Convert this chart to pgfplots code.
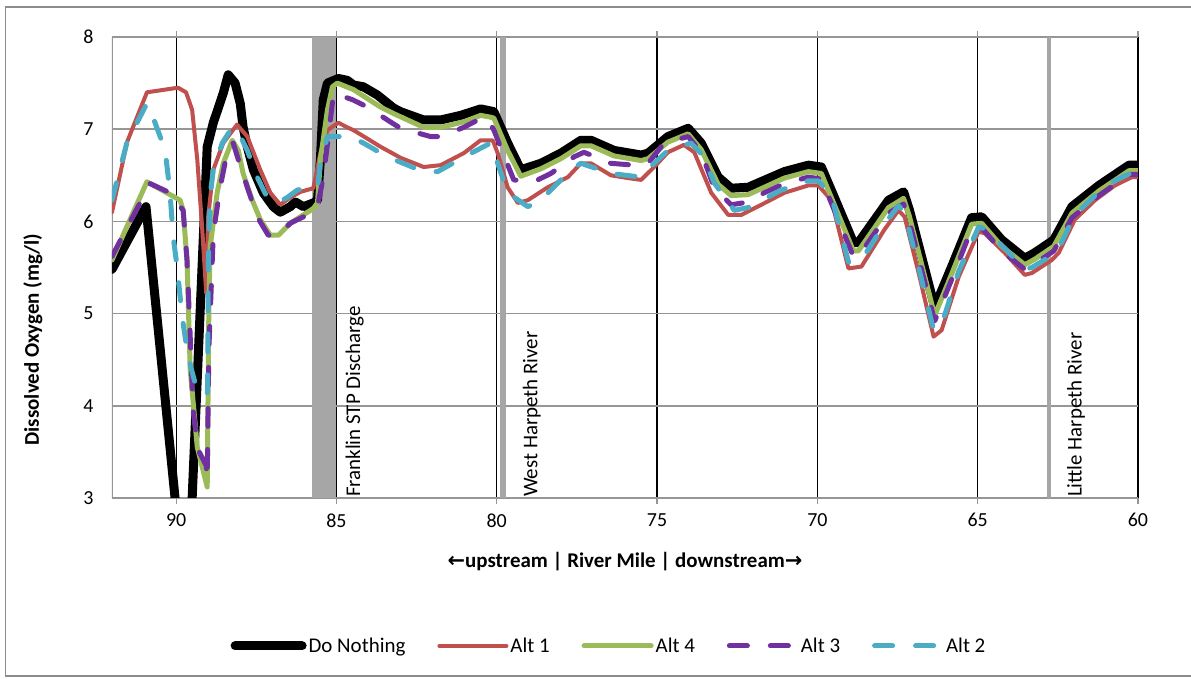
\documentclass[border=0pt]{standalone}
\usepackage{pgfplots}
\pgfplotsset{compat=1.18}
\usepackage{fontspec}
\setmainfont{Carlito}
\newfontfamily\arrowfont{DejaVu Sans}
\definecolor{cRed}{HTML}{C0504D}
\definecolor{cGreen}{HTML}{9BBB59}
\definecolor{cPurple}{HTML}{7030A0}
\definecolor{cTeal}{HTML}{4BACC6}
\definecolor{frameGray}{HTML}{8C8C8C}
\definecolor{gridGray}{HTML}{969696}
\definecolor{barGray}{HTML}{A6A6A6}
\begin{document}
\begin{tikzpicture}
\useasboundingbox (0,0) rectangle (1191bp,679bp);
\draw[frameGray, line width=1.2bp] (5.5bp,3bp) rectangle (1205bp,672bp);
\begin{axis}[
  at={(112bp,181bp)}, anchor=south west,
  scale only axis, width=1026bp, height=461bp,
  x dir=reverse, xmin=60, xmax=92, ymin=3, ymax=8,
  xtick={60,65,70,75,80,85,90}, ytick={3,4,5,6,7,8},
  axis line style={draw=none},
  xmajorgrids, ymajorgrids,
  x grid style={black, line width=1.1bp},
  y grid style={gridGray, line width=1.5bp},
  tick align=outside, major tick length=6bp,
  xtick style={draw=gridGray, line width=1.2bp},
  ytick style={draw=none},
  tick label style={font=\fontsize{20}{24}\selectfont},
  /pgf/number format/assume math mode=true,
  xticklabel style={yshift=-6bp},
  yticklabel style={xshift=-9bp},
  xlabel={{\arrowfont\bfseries\fontsize{21}{25}\selectfont ←}upstream | River Mile | downstream{\arrowfont\bfseries\fontsize{21}{25}\selectfont →}},
  xlabel style={font=\bfseries\fontsize{21}{25}\selectfont, at={(axis description cs:0.5,-0.137)}, anchor=center},
  ylabel={Dissolved Oxygen (mg/l)},
  ylabel style={font=\bfseries\fontsize{21}{25}\selectfont, at={(axis description cs:-0.077,0.344)}, anchor=center},
  legend style={at={(axis description cs:0.4844,-0.321)}, anchor=center, draw=none, fill=none,
    font=\fontsize{21}{25}\selectfont, /tikz/every even column/.append style={column sep=30bp}},
  legend columns=5,
  legend cell align=left,
  legend image code/.code={\draw[#1] (0bp,0bp) -- (67bp,0bp);},
  every axis plot/.append style={line cap=round, line join=round},
]
\draw[gridGray, line width=1.5bp] (axis cs:92,3) -- (axis cs:92,8);
\fill[barGray] (axis cs:85.75,3) rectangle (axis cs:85.0,8);
\fill[barGray] (axis cs:79.9,3) rectangle (axis cs:79.7,8);
\fill[barGray] (axis cs:62.85,3) rectangle (axis cs:62.72,8);
\node[rotate=90, anchor=north west, inner sep=0pt, font=\fontsize{21}{25}\selectfont] at (axis cs:84.72,3.01) {Franklin STP Discharge};
\node[rotate=90, anchor=north west, inner sep=0pt, font=\fontsize{21}{25}\selectfont] at (axis cs:79.19,3.01) {West Harpeth River};
\node[rotate=90, anchor=north west, inner sep=0pt, font=\fontsize{21}{25}\selectfont] at (axis cs:62.22,3.01) {Little Harpeth River};

% Do Nothing
\addplot[black, line width=9bp] coordinates {
(92.00,5.48) (90.94,6.16) (89.66,1.7) (89.03,6.81) (88.84,7.07) (88.53,7.39) (88.375,7.59) (88.16,7.50) (88.0,7.28) (87.91,7.02) (87.78,6.81) (87.59,6.56) (87.28,6.31) (86.97,6.16) (86.75,6.10) (86.44,6.16) (86.28,6.21) (86.03,6.16) (85.72,6.20) (85.59,6.23) (85.5,6.67) (85.41,7.32) (85.28,7.50) (84.94,7.55) (84.66,7.53) (84.47,7.48) (84.16,7.46) (83.72,7.37) (83.22,7.23) (83.0,7.19) (82.28,7.10) (81.75,7.10) (81.125,7.15) (80.5,7.22) (80.09,7.19) (79.66,6.85) (79.25,6.56) (78.625,6.63) (78.0,6.74) (77.375,6.88) (77.06,6.88) (76.34,6.77) (75.5,6.72) (75.28,6.74) (74.66,6.92) (74.03,7.01) (73.625,6.85) (73.09,6.48) (72.69,6.36) (72.16,6.37) (71.03,6.54) (70.28,6.61) (69.875,6.59) (69.47,6.26) (68.875,5.77) (68.72,5.77) (67.78,6.23) (67.31,6.32) (67.125,6.12) (66.34,5.07) (65.81,5.51) (65.19,6.04) (64.875,6.05) (64.25,5.80) (63.53,5.60) (63.22,5.66) (62.625,5.80) (62.06,6.16) (61.22,6.39) (60.28,6.61) (60.0,6.61)
};
\addlegendentry{Do Nothing}
% Alt 1
\addplot[cRed, line width=4bp] coordinates {
(92.00,6.10) (91.53,6.86) (90.91,7.40) (89.94,7.45) (89.69,7.40) (89.5,7.21) (89.34,6.67) (89.19,5.94) (89.06,5.22) (89.0,6.05) (88.84,6.56) (88.53,6.85) (88.10,7.05) (87.78,6.92) (87.375,6.56) (87.06,6.31) (86.75,6.18) (86.44,6.26) (86.125,6.32) (85.72,6.36) (85.5,6.74) (85.28,6.99) (84.94,7.07) (84.66,7.02) (84.47,6.99) (83.625,6.81) (83.0,6.69) (82.28,6.59) (81.75,6.61) (81.03,6.74) (80.5,6.88) (80.125,6.88) (79.97,6.74) (79.66,6.37) (79.34,6.20) (79.03,6.23) (78.41,6.37) (77.78,6.48) (77.375,6.63) (77.06,6.63) (76.44,6.50) (75.91,6.47) (75.5,6.45) (75.09,6.59) (74.66,6.75) (74.16,6.83) (73.84,6.75) (73.31,6.31) (72.78,6.07) (72.375,6.07) (71.75,6.18) (71.03,6.31) (70.28,6.39) (69.97,6.39) (69.56,6.23) (69.03,5.49) (68.625,5.51) (67.91,5.91) (67.47,6.12) (67.28,6.05) (66.84,5.44) (66.375,4.75) (66.125,4.82) (65.59,5.40) (64.97,5.89) (64.78,5.87) (64.16,5.66) (63.53,5.42) (63.31,5.44) (62.69,5.58) (62.47,5.66) (61.97,6.02) (61.34,6.23) (60.72,6.39) (60.19,6.48) (60.0,6.48)
};
\addlegendentry{Alt 1}
% Alt 4
\addplot[cGreen, line width=5bp] coordinates {
(92.00,5.58) (90.91,6.43) (89.875,6.23) (89.78,6.12) (89.66,5.58) (89.56,4.39) (89.34,3.55) (89.03,3.12) (88.98,5.0) (88.94,5.72) (88.72,6.31) (88.53,6.63) (88.25,6.88) (88.06,6.77) (87.91,6.52) (87.625,6.23) (87.375,6.02) (87.06,5.85) (86.81,5.85) (86.44,5.98) (86.125,6.05) (85.72,6.14) (85.59,6.20) (85.5,6.67) (85.28,7.21) (85.125,7.46) (84.97,7.50) (84.47,7.43) (83.625,7.24) (83.22,7.17) (82.28,7.02) (81.75,7.02) (81.03,7.08) (80.5,7.15) (80.19,7.13) (80.09,7.12) (79.66,6.77) (79.25,6.49) (78.625,6.57) (78.0,6.68) (77.375,6.82) (77.06,6.82) (76.34,6.71) (75.5,6.66) (75.28,6.68) (74.66,6.86) (74.03,6.95) (73.625,6.78) (73.09,6.40) (72.69,6.28) (72.16,6.29) (71.03,6.47) (70.28,6.54) (69.875,6.52) (69.47,6.18) (68.875,5.68) (68.72,5.68) (67.78,6.15) (67.31,6.25) (67.125,6.05) (66.34,4.98) (65.81,5.43) (65.19,5.97) (64.875,5.98) (64.25,5.73) (63.53,5.53) (63.22,5.59) (62.625,5.73) (62.06,6.09) (61.22,6.33) (60.28,6.55) (60.0,6.55)
};
\addlegendentry{Alt 4}
% Alt 3
\addplot[cPurple, line width=5bp, dash pattern=on 18bp off 23bp] coordinates {
(92.00,5.62) (90.81,6.41) (90.19,6.31) (89.78,6.12) (89.66,5.58) (89.56,4.75) (89.47,3.95) (89.31,3.52) (89.06,3.35) (89.03,3.20) (88.98,4.6) (88.84,5.87) (88.625,6.37) (88.375,6.81) (88.22,6.85) (88.06,6.67) (87.78,6.37) (87.47,6.05) (87.125,5.85) (86.81,5.85) (86.44,5.98) (86.03,6.05) (85.59,6.16) (85.41,6.48) (85.25,6.92) (85.09,7.39) (84.5,7.32) (84.03,7.24) (83.41,7.10) (83.0,7.01) (82.06,6.92) (81.75,6.92) (81.03,7.02) (80.59,7.10) (80.3,7.12) (80.09,6.99) (79.47,6.45) (78.84,6.43) (78.31,6.52) (77.59,6.70) (77.28,6.75) (76.44,6.63) (75.72,6.61) (75.28,6.63) (74.78,6.85) (74.03,6.92) (73.625,6.75) (73.22,6.37) (72.69,6.18) (72.16,6.21) (71.66,6.31) (71.03,6.41) (70.28,6.48) (69.875,6.46) (69.47,6.12) (68.875,5.62) (68.72,5.62) (67.78,6.09) (67.31,6.19) (67.125,5.99) (66.34,4.92) (65.81,5.37) (65.19,5.92) (64.875,5.93) (64.25,5.68) (63.53,5.48) (63.22,5.54) (62.625,5.68) (62.06,6.04) (61.22,6.28) (60.28,6.51) (60.0,6.51)
};
\addlegendentry{Alt 3}
% Alt 2
\addplot[cTeal, line width=5bp, dash pattern=on 18bp off 23bp] coordinates {
(92.00,6.23) (91.53,6.86) (90.91,7.28) (90.72,7.13) (90.34,6.77) (90.19,6.31) (90.09,5.83) (89.97,5.51) (89.81,4.96) (89.625,4.53) (89.41,4.25) (89.09,4.10) (89.02,4.15) (88.99,5.6) (88.95,6.25) (88.84,6.56) (88.56,6.85) (88.25,7.02) (88.09,6.99) (87.78,6.77) (87.47,6.48) (87.16,6.26) (86.84,6.20) (86.53,6.26) (86.22,6.34) (85.91,6.36) (85.59,6.37) (85.5,6.63) (85.28,6.92) (84.56,6.92) (84.16,6.85) (83.41,6.70) (82.28,6.54) (81.84,6.54) (80.91,6.72) (80.19,6.85) (79.97,6.63) (79.66,6.31) (79.03,6.16) (78.625,6.23) (77.69,6.56) (77.375,6.63) (76.44,6.52) (75.5,6.48) (75.09,6.63) (74.66,6.77) (73.94,6.85) (73.53,6.70) (73.22,6.42) (72.59,6.12) (72.16,6.15) (71.125,6.34) (70.28,6.44) (69.97,6.44) (69.56,6.28) (69.03,5.56) (68.625,5.58) (67.91,5.97) (67.47,6.17) (67.28,6.10) (66.84,5.50) (66.375,4.82) (66.125,4.88) (65.59,5.46) (64.97,5.94) (64.78,5.92) (64.16,5.71) (63.53,5.48) (63.31,5.50) (62.69,5.63) (62.47,5.71) (61.97,6.07) (61.34,6.28) (60.72,6.44) (60.19,6.53) (60.0,6.53)
};
\addlegendentry{Alt 2}
\end{axis}
\end{tikzpicture}
\end{document}
